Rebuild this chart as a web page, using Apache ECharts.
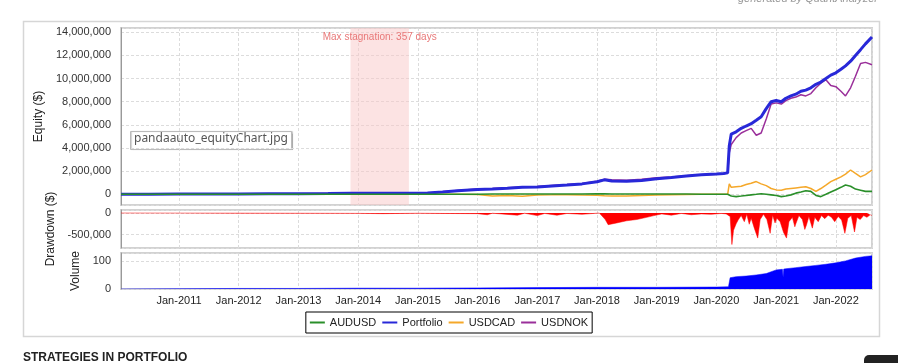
<!DOCTYPE html>
<html><head><meta charset="utf-8">
<script src="https://cdn.jsdelivr.net/npm/echarts@6/dist/echarts.min.js"></script>
<style>html,body{margin:0;padding:0;background:#fff;}#c{width:898px;height:363px;}</style>
</head><body><div id="c"></div>
<script>
const equityDates = ['2010-01-11','2010-07-01','2011-01-01','2011-07-01','2012-01-01','2012-07-01','2013-01-01','2013-07-01','2013-11-15','2014-06-01','2014-11-07','2015-03-01','2015-06-01','2015-09-01','2016-01-01','2016-04-01','2016-07-01','2016-10-01','2017-01-01','2017-04-01','2017-07-01','2017-10-01','2018-01-01','2018-02-15','2018-04-01','2018-07-01','2018-10-01','2019-01-01','2019-04-01','2019-07-01','2019-10-01','2020-01-01','2020-02-15','2020-03-10','2020-03-20','2020-04-01','2020-05-01','2020-06-01','2020-07-01','2020-08-01','2020-09-01','2020-10-01','2020-11-01','2020-12-01','2021-01-01','2021-02-01','2021-03-01','2021-04-01','2021-05-01','2021-06-01','2021-07-01','2021-08-01','2021-09-01','2021-10-01','2021-11-01','2021-12-01','2022-01-01','2022-02-01','2022-03-01','2022-04-01','2022-05-01','2022-06-01','2022-07-01','2022-08-10'];
const portfolio = [0,5000,15000,25000,35000,45000,55000,75000,95000,80000,98000,120000,200000,310000,420000,460000,520000,600000,640000,720000,800000,900000,1080000,1250000,1150000,1120000,1200000,1350000,1450000,1580000,1680000,1750000,1800000,1850000,4200000,5200000,5400000,5700000,5900000,6100000,6400000,6700000,7400000,8000000,8100000,8000000,8300000,8500000,8650000,8900000,9000000,9200000,9500000,9700000,10000000,10300000,10500000,10800000,11100000,11500000,12000000,12500000,13000000,13600000];
const usdnok = [0,5000,15000,25000,35000,45000,55000,75000,95000,80000,98000,120000,220000,330000,460000,500000,560000,640000,680000,760000,840000,940000,1120000,1300000,1250000,1220000,1300000,1420000,1500000,1600000,1680000,1740000,1790000,1830000,3600000,4300000,4900000,5300000,5500000,5700000,5100000,5300000,6500000,7800000,7900000,7800000,8100000,8300000,8400000,8600000,8500000,8700000,9200000,9600000,9900000,9400000,9300000,8900000,8500000,9200000,10200000,11300000,11400000,11200000];
const usdcad = [0,0,0,0,0,0,0,0,0,0,0,0,0,0,-20000,-150000,-100000,-160000,-60000,-50000,-30000,-60000,-80000,-120000,-150000,-140000,-100000,-60000,-30000,-10000,0,0,0,0,900000,600000,650000,700000,850000,950000,1100000,900000,750000,500000,380000,350000,450000,500000,550000,600000,650000,500000,250000,500000,800000,1100000,1300000,1500000,1750000,2100000,1800000,1500000,1700000,2100000];
const audusd = [0,0,0,0,0,0,0,0,0,0,0,0,0,0,10000,20000,20000,30000,20000,20000,30000,30000,40000,40000,30000,30000,30000,30000,20000,20000,10000,10000,10000,0,0,-150000,-200000,-150000,-100000,-50000,0,50000,0,-50000,-100000,-200000,-150000,-50000,100000,200000,300000,250000,-100000,-200000,0,200000,400000,600000,800000,700000,450000,350000,250000,250000];
const drawdownDates = ['2010-01-11','2011-01-01','2012-01-01','2013-01-01','2014-01-01','2014-06-01','2015-01-01','2015-06-01','2016-01-01','2016-03-01','2016-04-01','2016-09-01','2016-10-15','2017-01-01','2017-02-15','2017-05-01','2017-07-01','2017-10-01','2018-01-15','2018-02-20','2018-03-10','2018-05-01','2018-07-01','2018-09-01','2018-11-01','2018-12-15','2019-02-01','2019-04-01','2019-06-01','2019-08-01','2019-10-01','2019-12-01','2020-02-01','2020-03-01','2020-03-25','2020-04-05','2020-04-15','2020-05-01','2020-05-15','2020-06-01','2020-06-20','2020-07-05','2020-07-20','2020-08-01','2020-08-20','2020-09-10','2020-09-25','2020-10-15','2020-11-05','2020-11-25','2020-12-10','2020-12-25','2021-01-05','2021-01-25','2021-02-15','2021-03-05','2021-03-20','2021-04-10','2021-04-25','2021-05-01','2021-05-20','2021-06-10','2021-06-25','2021-07-05','2021-07-20','2021-08-10','2021-08-25','2021-09-15','2021-10-05','2021-10-25','2021-11-15','2021-12-05','2021-12-25','2022-01-15','2022-02-05','2022-02-25','2022-03-15','2022-04-05','2022-04-25','2022-05-10','2022-05-30','2022-06-20','2022-07-10','2022-07-30','2022-08-10'];
const drawdown = [0,-2000,-3000,-5000,-8000,-15000,-5000,-10000,-15000,-40000,-5000,-50000,-5000,-60000,-10000,-50000,-10000,-30000,0,-150000,-270000,-230000,-180000,-150000,-100000,-60000,-20000,-50000,-10000,-40000,-20000,-30000,-10000,-20000,-80000,-730000,-400000,-250000,-150000,-60000,-200000,-30000,-260000,-120000,-350000,-580000,-150000,-30000,-150000,-470000,-50000,-230000,-120000,-200000,-450000,-580000,-200000,-100000,-320000,-250000,-60000,-150000,-380000,-280000,-80000,-350000,-100000,-200000,-60000,-130000,-50000,-100000,-200000,-80000,-160000,-470000,-120000,-60000,-440000,-100000,-150000,-60000,-100000,-40000,-60000];
const volumeDates = ['2010-01-11','2011-01-01','2012-01-01','2013-01-01','2014-01-01','2015-01-01','2016-01-01','2017-01-01','2018-01-01','2019-01-01','2020-01-01','2020-03-15','2020-03-25','2020-05-01','2020-07-01','2020-09-01','2020-11-01','2021-01-01','2021-02-08','2021-02-12','2021-02-16','2021-03-01','2021-05-01','2021-07-01','2021-09-01','2021-11-01','2022-01-01','2022-03-01','2022-05-01','2022-07-01','2022-08-10'];
const volume = [0,1,2,2,3,3,4,5,6,6,7,8,40,44,46,50,55,68,70,42,71,72,76,80,84,88,93,100,110,116,118];
const stagnationRange = ['2013-11-15','2014-11-07'];
const stagnationText = 'Max stagnation: 357 days';
const axisStart = '2010-01-11';
const axisEnd = '2022-08-10';

const FONT = '"Liberation Sans", Arial, sans-serif';
const fmt = v => Math.round(v).toLocaleString('en-US');
const pair = (ds, vs) => ds.map((d, i) => [d, vs[i]]);

const chart = echarts.init(document.getElementById('c'), null, {renderer: 'canvas'});
const gridBase = {left: 121, right: 26, show: true, borderColor: '#d2d2d2', borderWidth: 2, containLabel: false};
const xBase = (idx, showLabel) => ({
  type: 'time', gridIndex: idx, min: axisStart, max: axisEnd, splitNumber: 12,
  axisLine: {show: false}, axisTick: {show: false},
  axisLabel: {show: showLabel, formatter: '{MMM}-{yyyy}', color: '#222', fontSize: 11, fontFamily: FONT, margin: 6, hideOverlap: false},
  splitLine: {show: true, lineStyle: {color: '#dcdcdc', type: [3, 2], width: 1}}
});
const yBase = {
  type: 'value', axisLine: {show: true, lineStyle: {color: '#999'}}, axisTick: {show: false},
  axisLabel: {color: '#333', fontSize: 11, fontFamily: FONT, margin: 10, formatter: fmt, showMinLabel: true, showMaxLabel: false},
  splitLine: {show: true, lineStyle: {color: '#dcdcdc', type: [3, 2], width: 1}},
  nameLocation: 'middle', nameRotate: 90, nameTextStyle: {color: '#222', fontSize: 12, fontFamily: FONT}
};

chart.setOption({
  animation: false,
  backgroundColor: '#fff',
  grid: [
    Object.assign({top: 28, height: 177}, gridBase),
    Object.assign({top: 210, height: 38}, gridBase),
    Object.assign({top: 253, height: 36}, gridBase)
  ],
  xAxis: [xBase(0, false), xBase(1, false), xBase(2, true)],
  yAxis: [
    Object.assign({}, yBase, {gridIndex: 0, min: -925000, max: 14370000, splitNumber: 7, name: 'Equity ($)', nameGap: 68,
      axisLabel: Object.assign({}, yBase.axisLabel, {showMinLabel: false})}),
    Object.assign({}, yBase, {gridIndex: 1, min: -810000, max: 70000, splitNumber: 2, name: 'Drawdown ($)', nameGap: 51,
      axisLabel: Object.assign({}, yBase.axisLabel, {showMinLabel: false})}),
    Object.assign({}, yBase, {gridIndex: 2, min: 0, max: 128, splitNumber: 1, name: 'Volume', nameGap: 26})
  ],
  legend: {
    data: ['AUDUSD', 'Portfolio', 'USDCAD', 'USDNOK'],
    left: 'center', top: 312, padding: [5, 4, 5, 4], itemGap: 6, itemWidth: 15, itemHeight: 2,
    icon: 'rect', borderColor: '#000', borderWidth: 1, backgroundColor: '#fff',
    textStyle: {color: '#222', fontSize: 11, fontFamily: FONT}
  },
  series: [
    {name: 'AUDUSD', type: 'line', xAxisIndex: 0, yAxisIndex: 0, data: pair(equityDates, audusd), showSymbol: false, lineStyle: {color: '#2a8f2a', width: 1.6}, itemStyle: {color: '#2a8f2a'}, z: 4},
    {name: 'Portfolio', type: 'line', xAxisIndex: 0, yAxisIndex: 0, data: pair(equityDates, portfolio), showSymbol: false, lineStyle: {color: '#2828d8', width: 3}, itemStyle: {color: '#2828d8'}, z: 3,
      markArea: {silent: true, itemStyle: {color: 'rgba(250,200,200,0.5)'},
        label: {show: true, position: 'insideTop', distance: 4, color: '#e87878', fontSize: 10, fontFamily: FONT},
        data: [[{name: stagnationText, xAxis: stagnationRange[0]}, {xAxis: stagnationRange[1]}]]}},
    {name: 'USDCAD', type: 'line', xAxisIndex: 0, yAxisIndex: 0, data: pair(equityDates, usdcad), showSymbol: false, lineStyle: {color: '#f5a82a', width: 1.5}, itemStyle: {color: '#f5a82a'}, z: 2},
    {name: 'USDNOK', type: 'line', xAxisIndex: 0, yAxisIndex: 0, data: pair(equityDates, usdnok), showSymbol: false, lineStyle: {color: '#9a2f9a', width: 1.5}, itemStyle: {color: '#9a2f9a'}, z: 2},
    {name: 'Drawdown', type: 'line', xAxisIndex: 1, yAxisIndex: 1, data: pair(drawdownDates, drawdown), showSymbol: false, lineStyle: {color: '#ff0000', width: 0.5}, areaStyle: {color: '#ff0000', opacity: 1}},
    {name: 'Volume', type: 'line', xAxisIndex: 2, yAxisIndex: 2, data: pair(volumeDates, volume), showSymbol: false, lineStyle: {color: '#0000ff', width: 0.5}, areaStyle: {color: '#0000ff', opacity: 1}}
  ],
  graphic: [
    {type: 'rect', shape: {x: 23.5, y: 21.5, width: 856, height: 315}, style: {fill: 'none', stroke: '#d6d6d6', lineWidth: 1.5}, z: -10, silent: true},
    {type: 'text', left: 738, top: -7, style: {text: 'generated by QuantAnalyzer', fill: '#999', font: 'italic 11px ' + FONT}},
    {type: 'group', left: 130, top: 131, children: [
      {type: 'rect', shape: {x: 0.5, y: 0.5, width: 161, height: 18}, style: {fill: '#fff', stroke: '#bbb', lineWidth: 1, shadowColor: 'rgba(0,0,0,0.2)', shadowOffsetX: 1, shadowBlur: 1}},
      {type: 'text', x: 4, y: 2, style: {text: 'pandaauto_equityChart.jpg', fill: '#555', font: '12px "Noto Sans", sans-serif'}}
    ], z: 20},
    {type: 'text', left: 23, top: 352, style: {text: 'STRATEGIES IN PORTFOLIO', fill: '#222', font: 'bold 12px ' + FONT}},
    {type: 'rect', shape: {x: 864, y: 355, width: 50, height: 20, r: 5}, style: {fill: '#222'}}
  ]
});
</script></body></html>
